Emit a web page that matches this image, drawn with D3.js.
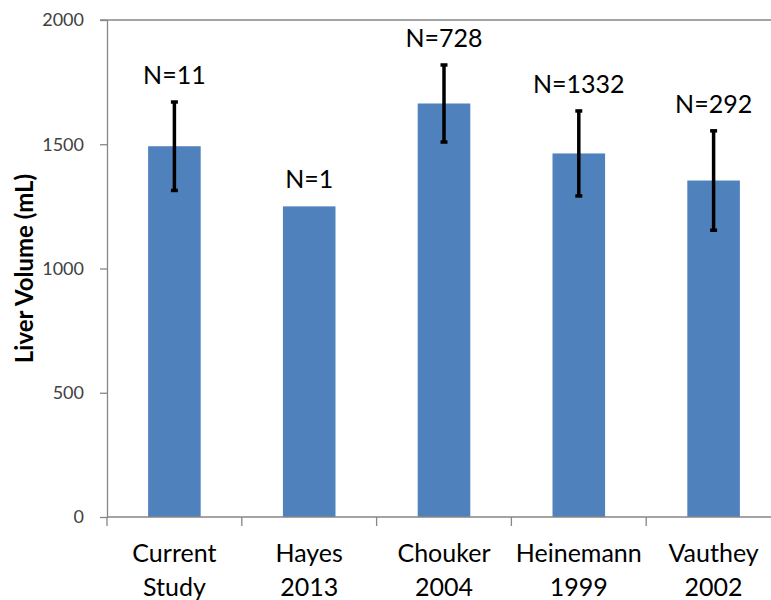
<!DOCTYPE html>
<html><head><meta charset="utf-8">
<script src="https://cdn.jsdelivr.net/npm/d3@7"></script>
<style>body{margin:0;background:#fff}svg{display:block}</style>
</head><body><svg id="c" width="771" height="600"></svg>
<script>
const categories = [["Current","Study"],["Hayes","2013"],["Chouker","2004"],["Heinemann","1999"],["Vauthey","2002"]];
const means = [1492, 1250, 1664, 1463, 1354];
const errors = [178, null, 155, 171, 200];
const nLabels = ["N=11","N=1","N=728","N=1332","N=292"];
const yTicks = [0, 500, 1000, 1500, 2000];

const svg = d3.select("#c");
const m = {left:107, right:-10, top:20, bottom:83};
const W = 771, H = 600;
const x = d3.scaleBand().domain(d3.range(categories.length)).range([m.left, W - m.right]).padding(0);
const y = d3.scaleLinear().domain([0, 2000]).range([H - m.bottom, m.top]);
const font = "Lato, 'Open Sans', sans-serif";
const axisColor = "#868686";

// top border line
svg.append("line").attr("x1", m.left - 7).attr("x2", W).attr("y1", y(2000)).attr("y2", y(2000))
  .attr("stroke", axisColor).attr("stroke-width", 1.3);

// bars
const bw = x.bandwidth() * 0.39;
svg.selectAll("rect.bar").data(means).join("rect")
  .attr("x", (d,i) => x(i) + x.bandwidth()/2 - bw/2)
  .attr("width", bw)
  .attr("y", d => y(d))
  .attr("height", d => y(0) - y(d))
  .attr("fill", "#4F81BD");

// error bars
const eg = svg.append("g");
means.forEach((d,i) => {
  if (errors[i] == null) return;
  const cx = x(i) + x.bandwidth()/2;
  eg.append("line").attr("x1", cx).attr("x2", cx).attr("y1", y(d + errors[i])).attr("y2", y(d - errors[i]))
    .attr("stroke", "#000").attr("stroke-width", 3.5);
  [d + errors[i], d - errors[i]].forEach(v => {
    eg.append("line").attr("x1", cx - 3.5).attr("x2", cx + 3.5).attr("y1", y(v)).attr("y2", y(v))
      .attr("stroke", "#000").attr("stroke-width", 3.5);
  });
});

// N labels
svg.selectAll("text.n").data(nLabels).join("text")
  .attr("x", (d,i) => x(i) + x.bandwidth()/2)
  .attr("y", (d,i) => y(means[i] + (errors[i] || 0)) - 18)
  .attr("text-anchor", "middle")
  .attr("font-family", font).attr("font-size", 25).attr("fill", "#000")
  .text(d => d);

// y axis
const ya = svg.append("g").attr("transform", `translate(${m.left},0)`)
  .call(d3.axisLeft(y).tickValues(yTicks).tickFormat(d3.format("d")).tickSize(7).tickPadding(16).tickSizeOuter(0));
ya.select(".domain").attr("stroke", axisColor).attr("stroke-width", 1.3);
ya.selectAll(".tick line").attr("stroke", axisColor).attr("stroke-width", 1.3);
ya.selectAll(".tick text").attr("font-family", font).attr("font-size", 18).attr("fill", "#404040");

// x axis
const xa = svg.append("g").attr("transform", `translate(0,${y(0)})`);
xa.append("line").attr("x1", m.left).attr("x2", W).attr("y1", 0).attr("y2", 0)
  .attr("stroke", axisColor).attr("stroke-width", 1.3);
d3.range(categories.length + 1).forEach(i => {
  const tx = i < categories.length ? x(i) : x(i-1) + x.bandwidth();
  xa.append("line").attr("x1", tx).attr("x2", tx).attr("y1", 0).attr("y2", 9)
    .attr("stroke", axisColor).attr("stroke-width", 1.3);
});
categories.forEach((c,i) => {
  const t = xa.append("text").attr("text-anchor", "middle")
    .attr("font-family", font).attr("font-size", 25).attr("fill", "#000");
  c.forEach((line, j) => {
    t.append("tspan").attr("x", x(i) + x.bandwidth()/2).attr("y", 45 + j*34).text(line);
  });
});

// y title
svg.append("text")
  .attr("transform", `translate(33,${(y(0)+y(2000))/2}) rotate(-90)`)
  .attr("text-anchor", "middle")
  .attr("font-family", font).attr("font-size", 24).attr("font-weight", "bold").attr("fill", "#000")
  .text("Liver Volume (mL)");
</script></body></html>
